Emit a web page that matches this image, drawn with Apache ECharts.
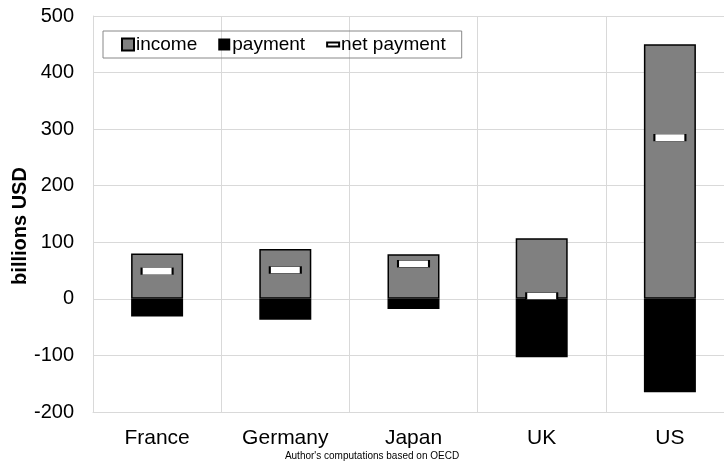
<!DOCTYPE html>
<html>
<head>
<meta charset="utf-8">
<script src="https://cdn.jsdelivr.net/npm/echarts@6/dist/echarts.min.js"></script>
<style>
  html, body { margin: 0; padding: 0; background: #fff; overflow: hidden; }
  #chart { width: 724px; height: 468px; }
</style>
</head>
<body>
<div id="chart"></div>
<script>
  const countries = ["France", "Germany", "Japan", "UK", "US"];
  const income = [80, 88, 79, 107, 450];
  const payment = [-31, -37, -18, -103, -165];
  const netPayment = [49, 51, 62, 5, 285];
  const yTicks = { min: -200, max: 500, step: 100 };

  const chart = echarts.init(document.getElementById("chart"));
  const font = "Liberation Sans, Arial, sans-serif";

  chart.setOption({
    animation: false,
    textStyle: { fontFamily: font },
    title: {
      text: "Author's computations based on OECD",
      left: 367,
      textAlign: "center",
      bottom: 2,
      textStyle: { fontSize: 10, fontWeight: "normal", color: "#000", fontFamily: font }
    },
    legend: {
      left: 103,
      top: 31,
      padding: [4, 16, 4, 18],
      borderColor: "#888",
      borderWidth: 1,
      itemWidth: 12,
      itemHeight: 12,
      itemGap: 21,
      textStyle: { fontSize: 19, color: "#000", padding: [0, 0, 0, -3] },
      data: [
        { name: "income", icon: "rect" },
        { name: "payment", icon: "rect" },
        { name: "net payment", icon: "path://M0,0h12v4h-12z" }
      ]
    },
    grid: { left: 93, width: 641, top: 16, bottom: 56, outerBoundsMode: "none" },
    xAxis: {
      type: "category",
      data: countries,
      axisLine: { show: true, lineStyle: { color: "#d9d9d9" }, onZero: false },
      axisTick: { show: false },
      axisLabel: { fontSize: 21, color: "#000", margin: 16 },
      splitLine: { show: true, lineStyle: { color: "#d9d9d9" } }
    },
    yAxis: {
      type: "value",
      min: yTicks.min,
      max: yTicks.max,
      interval: yTicks.step,
      name: "billions USD",
      nameLocation: "middle",
      nameMoveOverlap: false,
      nameGap: 63,
      nameTextStyle: { fontSize: 20, fontWeight: "bold", color: "#000", padding: [0, 24, 0, 0] },
      axisLine: { show: true, lineStyle: { color: "#d9d9d9" } },
      axisTick: { show: false },
      axisLabel: { fontSize: 20, color: "#000", margin: 19 },
      splitLine: { lineStyle: { color: "#d9d9d9" } }
    },
    series: [
      {
        name: "income",
        type: "bar",
        data: income,
        barWidth: 52,
        barGap: "-100%",
        itemStyle: { color: "#808080", borderColor: "#000", borderWidth: 1.5 }
      },
      {
        name: "payment",
        type: "bar",
        data: payment,
        barWidth: 52,
        itemStyle: { color: "#000", borderColor: "#000", borderWidth: 0 }
      },
      {
        name: "net payment",
        type: "scatter",
        data: netPayment,
        symbol: "rect",
        symbolSize: [31, 7],
        itemStyle: { color: "#fff", borderColor: "#000", borderWidth: 1, opacity: 1 },
        z: 5
      }
    ]
  });
</script>
</body>
</html>
